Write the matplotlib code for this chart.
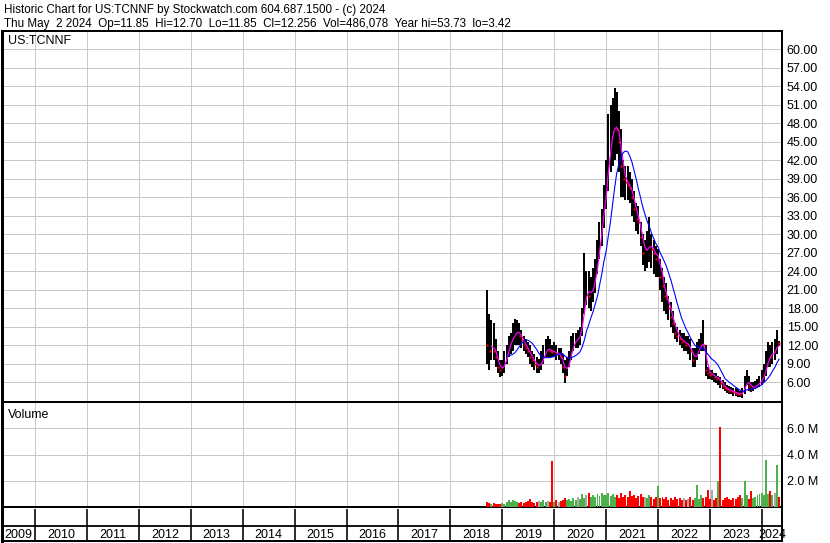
import numpy as np
import pandas as pd
import matplotlib
matplotlib.use("Agg")
import matplotlib.pyplot as plt

plt.rcParams['font.family'] = ['Liberation Sans', 'DejaVu Sans']

# semi-monthly samples, 15 Sep 2018 .. 1 May 2024
dates = pd.date_range('2018-09-15', '2024-05-01', freq='SMS')

high = [21.0, 17.0, 16.0, 15.5, 13.0, 11.0, 9.5,
        9.5, 11.0, 12.0, 13.5, 14.0, 15.5, 16.2, 16.0, 15.5, 14.5, 13.5, 13.0,
        12.5, 12.0, 11.0, 10.5, 10.0, 9.8, 11.0, 12.0, 13.0, 13.5, 13.0, 12.0,
        12.5, 12.0, 11.5, 11.5, 10.5, 9.5, 10.0, 11.0, 13.5, 14.0, 14.0, 14.5,
        15.0, 18.0, 27.0, 24.0, 24.0, 23.0, 24.5, 26.0, 29.0, 32.0, 34.0, 38.0,
        42.0, 49.5, 51.0, 52.0, 53.7, 53.0, 50.0, 47.0, 42.0, 41.0, 41.0, 40.0,
        39.0, 37.0, 35.0, 34.5, 32.0, 30.0, 29.0, 30.5, 32.8, 30.0, 29.0, 28.0,
        27.5, 26.0, 24.5, 23.0, 22.0, 20.0, 19.0, 17.5, 15.5, 15.0, 14.5, 14.0,
        14.0, 13.5, 13.5, 13.0, 11.5, 11.5, 12.5, 13.0, 14.0, 16.0, 12.0, 8.5,
        8.0, 8.0, 7.5, 7.5, 7.0, 6.8, 6.3, 6.0, 5.5, 5.3, 5.2, 5.0,
        5.0, 4.8, 4.6, 5.0, 7.0, 8.0, 7.0, 6.0, 6.0, 6.2, 6.5, 7.0,
        8.0, 9.0, 11.0, 12.5, 12.0, 12.5, 13.0, 14.5, 12.7]
low = [9.0, 8.0, 9.5, 9.5, 8.5, 7.5, 6.8,
       7.0, 7.5, 9.0, 10.0, 10.5, 11.0, 12.0, 12.0, 12.0, 11.5, 11.0, 10.5,
       10.0, 9.0, 8.5, 8.0, 7.5, 7.5, 8.0, 9.0, 10.0, 10.0, 10.0, 10.0,
       10.0, 9.5, 9.5, 9.0, 7.5, 5.8, 7.0, 8.5, 9.5, 11.0, 11.5, 11.5,
       12.0, 13.5, 17.0, 18.5, 18.0, 17.5, 19.0, 20.5, 23.5, 26.0, 28.0, 31.0,
       34.0, 37.0, 40.0, 41.0, 42.0, 43.0, 40.0, 36.0, 36.0, 35.5, 35.5, 35.0,
       33.0, 32.0, 30.5, 30.0, 28.0, 25.0, 24.0, 24.5, 25.5, 24.5, 23.5, 23.0,
       23.0, 21.0, 19.0, 17.5, 17.0, 16.0, 15.0, 14.0, 13.0, 12.5, 12.0, 11.5,
       11.0, 11.0, 10.5, 9.5, 8.5, 8.5, 9.5, 10.5, 11.0, 11.0, 7.0, 6.5,
       6.5, 6.3, 6.0, 5.8, 5.5, 5.0, 4.8, 4.5, 4.2, 4.0, 4.0, 3.8,
       3.7, 3.6, 3.5, 3.42, 4.0, 5.5, 4.5, 4.3, 4.5, 4.8, 5.0, 5.2,
       5.5, 6.0, 7.0, 8.5, 8.5, 9.0, 9.5, 10.5, 11.85]
close = [12.0, 11.0, 12.5, 11.0, 10.0, 8.5, 8.0,
         8.2, 9.5, 11.0, 12.0, 13.0, 13.5, 14.0, 14.5, 13.5, 12.8, 12.0, 11.5,
         11.0, 10.0, 9.5, 9.0, 8.5, 8.5, 9.5, 10.5, 11.5, 11.5, 11.0, 10.8,
         11.0, 10.5, 10.5, 10.0, 8.5, 7.0, 9.0, 10.0, 12.0, 12.5, 13.0, 13.0,
         14.0, 17.0, 21.0, 21.0, 20.0, 20.5, 22.0, 24.0, 27.0, 30.0, 32.5, 36.0,
         39.0, 44.0, 46.0, 47.0, 48.0, 47.0, 45.0, 41.0, 39.0, 38.5, 38.0, 37.5,
         36.0, 34.0, 32.5, 32.0, 29.5, 27.0, 27.0, 28.0, 28.5, 27.5, 27.0, 26.0,
         26.5, 23.0, 21.5, 20.0, 19.5, 18.0, 16.5, 15.5, 14.0, 13.5, 13.0, 12.5,
         12.5, 12.0, 12.0, 11.0, 9.5, 10.0, 11.0, 12.0, 12.5, 12.0, 8.0, 7.5,
         7.2, 7.2, 6.8, 6.5, 6.6, 5.8, 5.3, 5.0, 4.8, 4.6, 4.5, 4.3,
         4.2, 4.1, 4.0, 4.2, 6.0, 6.5, 5.3, 4.9, 5.2, 5.5, 5.7, 6.0,
         6.8, 7.5, 9.5, 10.5, 10.0, 11.0, 11.0, 12.5, 12.256]
# millions of shares
volume = [0.4, 0.3, 0.25, 0.3, 0.2, 0.25, 0.2,
          0.3, 0.25, 0.35, 0.5, 0.4, 0.55, 0.45, 0.35, 0.3, 0.4, 0.3, 0.35,
          0.45, 0.6, 0.4, 0.3, 0.35, 0.45, 0.4, 0.5, 0.35, 0.45, 0.4, 3.47,
          0.4, 0.5, 0.35, 0.45, 0.55, 0.7, 0.5, 0.6, 0.45, 0.65, 0.55, 0.8,
          0.6, 1.0, 0.7, 0.9, 1.05, 0.75, 0.9, 0.8, 1.0, 0.85, 1.1, 0.95,
          0.9, 1.1, 0.85, 1.0, 0.8, 0.95, 0.7, 1.1, 0.75, 0.9, 0.8, 1.2,
          0.85, 0.9, 0.7, 0.85, 1.0, 0.75, 0.8, 0.7, 0.9, 0.75, 0.6, 0.8,
          1.6, 0.7, 0.8, 0.6, 0.75, 0.5, 0.7, 0.55, 0.8, 0.6, 0.65, 0.5,
          0.7, 0.55, 0.6, 0.8, 0.55, 0.7, 1.66, 0.6, 0.9, 0.7, 0.8, 1.3,
          0.6, 1.3, 0.5, 0.7, 2.0, 6.1, 0.5, 0.7, 0.8, 0.6, 0.5, 0.7,
          0.6, 0.8, 0.9, 0.7, 1.96, 0.9, 0.6, 1.2, 0.7, 0.8, 0.9, 1.0,
          1.1, 0.9, 3.6, 1.0, 1.2, 0.9, 1.1, 3.2, 0.8]

years = list(range(2009, 2025))
price_ticks = list(range(6, 61, 3))
vol_ticks = [2, 4, 6]

header1 = "Historic Chart for US:TCNNF by Stockwatch.com 604.687.1500 - (c) 2024"
header2 = ("Thu May  2 2024  Op=11.85  Hi=12.70  Lo=11.85  Cl=12.256  "
           "Vol=486,078  Year hi=53.73  lo=3.42")

t = dates.year + (dates.dayofyear - 1) / np.where(dates.is_leap_year, 366.0, 365.0)
t = np.asarray(t, dtype=float)
high = np.array(high)
low = np.array(low)
close = np.array(close)
volume = np.array(volume)

PX = 0.72  # points per pixel at 100 dpi
W, H = 830, 543
XMIN, XMAX = 2009.364, 2024.387


def box(l, top, r, b):
    return [l / W, 1 - b / H, (r - l) / W, (b - top) / H]


fig = plt.figure(figsize=(W / 100, H / 100), dpi=100)
ax = fig.add_axes(box(2, 31, 782, 401))
axv = fig.add_axes(box(2, 402, 782, 507))
axd = fig.add_axes(box(2, 509, 782, 541))

grid_c = '#c8c8c8'

# price panel
diff = np.diff(close, prepend=close[0] + 1)
ax.vlines(t, low, high, color='black', lw=2 * PX, zorder=3, antialiased=False)
down = diff < 0
ax.plot(t[down] + 0.006, close[down], 's', ms=1.8, color='#ff0000', mec='none', zorder=4)
ma_fast = pd.Series(close).rolling(3).mean()
ma_slow = pd.Series(close).rolling(10).mean()
ax.plot(t, ma_fast, color='#ff00ff', lw=1.2 * PX, zorder=5)
ax.plot(t, ma_slow, color='#0000ff', lw=1.1 * PX, zorder=5)

ax.set_xlim(XMIN, XMAX)
ax.set_ylim(2.92, 62.92)
ax.set_xticks(years[1:])
ax.set_yticks(price_ticks)
ax.set_yticklabels([f'{v:.2f}' for v in price_ticks])
ax.yaxis.tick_right()
ax.tick_params(axis='x', length=0, labelbottom=False)
ax.tick_params(axis='y', length=0, pad=3.4, labelsize=9)
ax.grid(color=grid_c, lw=1 * PX)
ax.set_axisbelow(True)
ax.text(6 / 780, 0.988, 'US:TCNNF', transform=ax.transAxes, fontsize=9, va='top', ha='left')

# volume panel
colors = ['#4cb04c' if d > 0 else ('#ff0000' if d < 0 else '#a8a8a8') for d in diff]
axv.bar(t, volume, width=0.9 / 24, color=colors, zorder=3)
axv.set_xlim(XMIN, XMAX)
axv.set_ylim(0, 8.0)
axv.set_xticks(years[1:])
axv.set_yticks(vol_ticks)
axv.set_yticklabels([f'{v:.1f} M' for v in vol_ticks])
axv.yaxis.tick_right()
axv.tick_params(axis='x', length=0, labelbottom=False)
axv.tick_params(axis='y', length=0, pad=3.4, labelsize=9)
axv.grid(color=grid_c, lw=1 * PX)
axv.set_axisbelow(True)
axv.text(6 / 780, 0.93, 'Volume', transform=axv.transAxes, fontsize=9, va='top', ha='left')

# date strip
axd.set_xlim(XMIN, XMAX)
axd.set_ylim(0, 1)
axd.set_xticks([])
axd.set_yticks([])
for y in years[1:]:
    axd.axvline(y, color='black', lw=1.6 * PX)
axd.axhline(0.48, color='black', lw=1.8 * PX)
for y in years:
    a, b = max(y, XMIN), min(y + 1, XMAX)
    axd.text((a + b) / 2, 0.2, str(y), ha='center', va='center', fontsize=9, clip_on=False)

for a in (ax, axv, axd):
    a.spines['left'].set_linewidth(3 * PX)
    a.spines['right'].set_linewidth(2 * PX)
ax.spines['top'].set_linewidth(2 * PX)
ax.spines['bottom'].set_linewidth(1 * PX)
axv.spines['top'].set_linewidth(1 * PX)
axv.spines['bottom'].set_linewidth(2 * PX)
axd.spines['top'].set_visible(False)
axd.spines['bottom'].set_linewidth(2 * PX)

fig.text(4 / W, 1 - 13.5 / H, header1, fontsize=8.4, va='baseline', ha='left')
fig.text(4 / W, 1 - 27 / H, header2, fontsize=8.4, va='baseline', ha='left')

fig.savefig('out.png', dpi=100)
